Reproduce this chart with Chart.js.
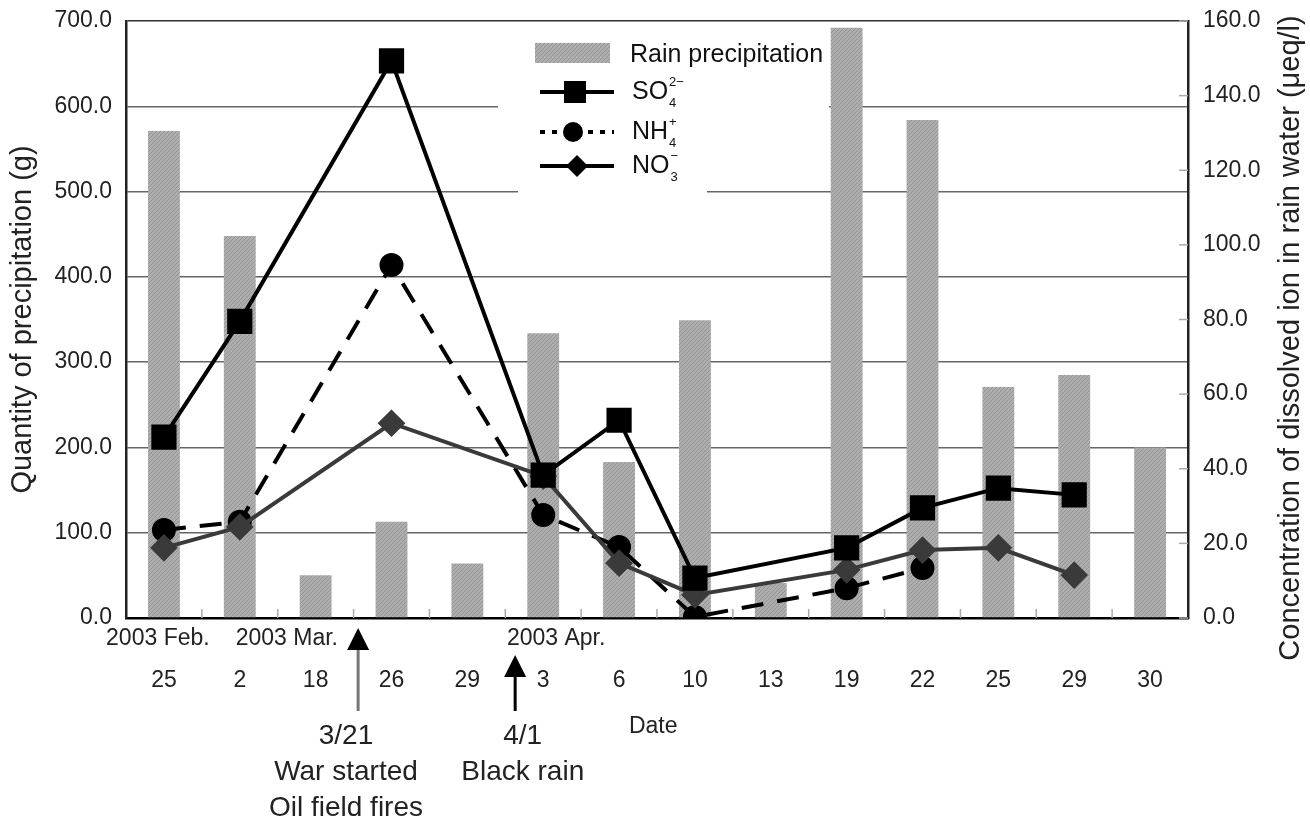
<!DOCTYPE html>
<html>
<head>
<meta charset="utf-8">
<script src="https://cdn.jsdelivr.net/npm/chart.js@4.4.1/dist/chart.umd.min.js"></script>
<style>
  html, body { margin: 0; padding: 0; background: #fff; }
</style>
</head>
<body>
<canvas id="rainChart" width="1310" height="825"></canvas>
<script>
// sampling dates (day of month) and month headers
const days = ['25', '2', '18', '26', '29', '3', '6', '10', '13', '19', '22', '25', '29', '30'];
const months = ['2003 Feb.', '2003 Mar.', '2003 Apr.'];

// rain precipitation (g), left axis
const rainAmount = [571, 448, 50, 113, 64, 334, 183, 349, 41, 692, 584, 271, 285, 200];

// dissolved ions (μeq/l), right axis
const so4 = [48.5, 79.5, null, 149.3, null, 38.3, 53, 10.7, null, 18.8, 29.5, 34.8, 33, null];
const nh4 = [23.6, 25.8, null, 94.6, null, 27.6, 19, 0.3, null, 8, 13.4, null, null, null];
const no3 = [18.8, 24.4, null, 52.2, null, 38, 14.7, 6.2, null, 12.9, 18.2, 18.8, 11.5, null];

const leftTicks = [0, 100, 200, 300, 400, 500, 600, 700];
const rightTicks = [0, 20, 40, 60, 80, 100, 120, 140, 160];

// event notes under the axis
const events = [
    { text: ['3/21', 'War started', 'Oil field fires'], color: '#777' },
    { text: ['4/1', 'Black rain'], color: '#000' }
];

const FONT = "'Liberation Sans', Arial, Helvetica, sans-serif";

// fine hatch for the bars
function hatch() {
    const c = document.createElement('canvas');
    c.width = 4; c.height = 4;
    const g = c.getContext('2d');
    g.fillStyle = '#aeaeae';
    g.fillRect(0, 0, 4, 4);
    g.strokeStyle = '#949494';
    g.lineWidth = 1;
    g.beginPath();
    g.moveTo(0, 4); g.lineTo(4, 0);
    g.stroke();
    return g.createPattern(c, 'repeat');
}

function chem(ctx, x, y, base, sub, sup) {
    ctx.textAlign = 'left';
    ctx.textBaseline = 'middle';
    ctx.font = '25px ' + FONT;
    ctx.fillText(base, x, y);
    const w = ctx.measureText(base).width;
    ctx.font = '13px ' + FONT;
    ctx.fillText(sub, x + w + 1, y + 11);
    ctx.fillText(sup, x + w + 1, y - 10);
}

function marker(ctx, style, x, y, r) {
    ctx.beginPath();
    if (style === 'rect') {
        ctx.rect(x - r, y - r, 2 * r, 2 * r);
    } else if (style === 'circle') {
        ctx.arc(x, y, r, 0, Math.PI * 2);
    } else {
        ctx.moveTo(x - r, y); ctx.lineTo(x, y - r); ctx.lineTo(x + r, y); ctx.lineTo(x, y + r);
        ctx.closePath();
    }
    ctx.fill();
}

// keep the plot box where the original has it
function fixY(width) {
    return s => { s.width = width; s.paddingTop = 0; s.paddingBottom = 0; };
}

const extras = {
    id: 'extras',
    beforeDatasetsDraw(chart) {
        // white box behind the legend
        const ctx = chart.ctx;
        ctx.save();
        ctx.fillStyle = '#fff';
        ctx.fillRect(498, 28, 331, 100);
        ctx.fillRect(518, 128, 189, 72);
        ctx.restore();
    },
    afterDraw(chart) {
        const ctx = chart.ctx;
        const x = chart.scales.x;
        const y1 = chart.scales.y1;
        const area = chart.chartArea;
        ctx.save();

        // small inner ticks
        ctx.strokeStyle = '#aaa';
        ctx.lineWidth = 1.5;
        for (let i = 1; i < days.length; i++) {
            const px = x.getPixelForValue(i - 0.5);
            ctx.beginPath(); ctx.moveTo(px, area.bottom); ctx.lineTo(px, area.bottom - 9); ctx.stroke();
        }
        rightTicks.forEach(v => {
            const py = y1.getPixelForValue(v);
            ctx.beginPath(); ctx.moveTo(area.right, py); ctx.lineTo(area.right - 9, py); ctx.stroke();
        });

        // month headers
        ctx.fillStyle = '#222';
        ctx.font = '23px ' + FONT;
        ctx.textAlign = 'center';
        ctx.textBaseline = 'middle';
        const monthPos = [-0.08, 1.62, 5.17];
        months.forEach((m, i) => ctx.fillText(m, x.getPixelForValue(monthPos[i]), 639));

        // arrows + notes
        const arrowPos = [2.56, 4.63];
        const arrowTop = [628, 655];
        const textPos = [2.40, 4.73];
        events.forEach((ev, i) => {
            const ax = x.getPixelForValue(arrowPos[i]);
            ctx.strokeStyle = ev.color;
            ctx.lineWidth = 3;
            ctx.beginPath(); ctx.moveTo(ax, arrowTop[i] + 18); ctx.lineTo(ax, 711); ctx.stroke();
            ctx.fillStyle = '#000';
            ctx.beginPath();
            ctx.moveTo(ax, arrowTop[i]);
            ctx.lineTo(ax - 11, arrowTop[i] + 22);
            ctx.lineTo(ax + 11, arrowTop[i] + 22);
            ctx.closePath(); ctx.fill();
            ctx.fillStyle = '#222';
            ctx.font = '28px ' + FONT;
            const tx = x.getPixelForValue(textPos[i]);
            ev.text.forEach((t, k) => ctx.fillText(t, tx, 736 + k * 36));
        });
        ctx.font = '23px ' + FONT;
        ctx.fillText('Date', x.getPixelForValue(6.45), 727);

        // right axis title, reads bottom to top
        ctx.save();
        ctx.translate(1291, 338);
        ctx.rotate(-Math.PI / 2);
        ctx.font = '29px ' + FONT;
        ctx.fillStyle = '#222';
        ctx.fillText('Concentration of dissolved ion in rain water (\u03bceq/l)', 0, 0);
        ctx.restore();

        // legend
        ctx.fillStyle = chart.data.datasets[0].backgroundColor;
        ctx.fillRect(535, 43, 75, 20);
        ctx.fillStyle = '#111';
        ctx.font = '25px ' + FONT;
        ctx.textAlign = 'left';
        ctx.textBaseline = 'middle';
        ctx.fillText('Rain precipitation', 630, 55);

        const rows = [
            { y: 92, style: 'rect', r: 11, dash: [], color: '#000', mx: 575, label: ['SO', '4', '2\u2212'] },
            { y: 132, style: 'circle', r: 10, dash: [5, 7], color: '#000', mx: 573, label: ['NH', '4', '+'] },
            { y: 166, style: 'diamond', r: 11, dash: [], color: '#000', mx: 577, label: ['NO', '3', '\u2212'] }
        ];
        rows.forEach(row => {
            ctx.strokeStyle = row.color;
            ctx.fillStyle = row.color;
            ctx.lineWidth = 4;
            ctx.setLineDash(row.dash);
            ctx.beginPath(); ctx.moveTo(540, row.y); ctx.lineTo(614, row.y); ctx.stroke();
            ctx.setLineDash([]);
            marker(ctx, row.style, row.mx, row.y, row.r);
            ctx.fillStyle = '#111';
            chem(ctx, 632, row.y, row.label[0], row.label[1], row.label[2]);
        });

        ctx.restore();
    }
};

const ctx = document.getElementById('rainChart').getContext('2d');
const rainChart = new Chart(ctx, {
    type: 'bar',
    data: {
        labels: days,
        datasets: [{
            label: 'Rain precipitation',
            data: rainAmount,
            backgroundColor: hatch(),
            borderWidth: 0,
            barPercentage: 0.42,
            categoryPercentage: 1,
            yAxisID: 'y',
            order: 3
        }, {
            type: 'line',
            label: 'SO4 2-',
            data: so4,
            borderColor: '#000',
            backgroundColor: '#000',
            borderWidth: 4,
            pointStyle: 'rect',
            pointRadius: 15,
            spanGaps: true,
            yAxisID: 'y1',
            order: 0
        }, {
            type: 'line',
            label: 'NH4 +',
            data: nh4,
            borderColor: '#000',
            backgroundColor: '#000',
            borderWidth: 4,
            borderDash: [22, 14],
            pointStyle: 'circle',
            pointRadius: 10,
            spanGaps: true,
            yAxisID: 'y1',
            order: 2
        }, {
            type: 'line',
            label: 'NO3 -',
            data: no3,
            borderColor: '#3a3a3a',
            backgroundColor: '#3a3a3a',
            borderWidth: 4,
            pointStyle: 'rectRot',
            pointRadius: 11,
            spanGaps: true,
            yAxisID: 'y1',
            order: 1
        }]
    },
    options: {
        responsive: false,
        animation: false,
        layout: { padding: { top: 21, left: 0, right: 0, bottom: 0 } },
        plugins: {
            legend: { display: false },
            tooltip: { enabled: false }
        },
        scales: {
            x: {
                offset: true,
                grid: { display: false },
                border: { display: true, color: '#000', width: 2.5 },
                ticks: { color: '#222', font: { family: FONT, size: 23 }, padding: 41, maxRotation: 0, autoSkip: false },
                afterFit: s => { s.height = 207; s.paddingLeft = 0; s.paddingRight = 0; }
            },
            y: {
                position: 'left',
                min: 0,
                max: 700,
                afterBuildTicks: s => { s.ticks = leftTicks.map(v => ({ value: v })); },
                grid: {
                    color: c => c.tick && c.tick.value === 700 ? '#333' : '#666',
                    lineWidth: 1.5,
                    drawTicks: false
                },
                border: { display: true, color: '#222', width: 2.5 },
                ticks: {
                    color: '#222',
                    padding: 14,
                    font: { family: FONT, size: 23 },
                    callback: v => v.toFixed(1)
                },
                title: {
                    display: true,
                    text: 'Quantity of precipitation (g)',
                    color: '#222',
                    font: { family: FONT, size: 29 },
                    padding: { top: 6, bottom: 0 }
                },
                afterFit: fixY(126)
            },
            y1: {
                position: 'right',
                min: 0,
                max: 160,
                afterBuildTicks: s => { s.ticks = rightTicks.map(v => ({ value: v })); },
                grid: { drawOnChartArea: false, drawTicks: false },
                border: { display: true, color: '#222', width: 2.5 },
                ticks: {
                    color: '#222',
                    padding: 15,
                    font: { family: FONT, size: 23 },
                    callback: v => v.toFixed(1)
                },
                afterFit: fixY(122)
            }
        }
    },
    plugins: [extras]
});
</script>
</body>
</html>
